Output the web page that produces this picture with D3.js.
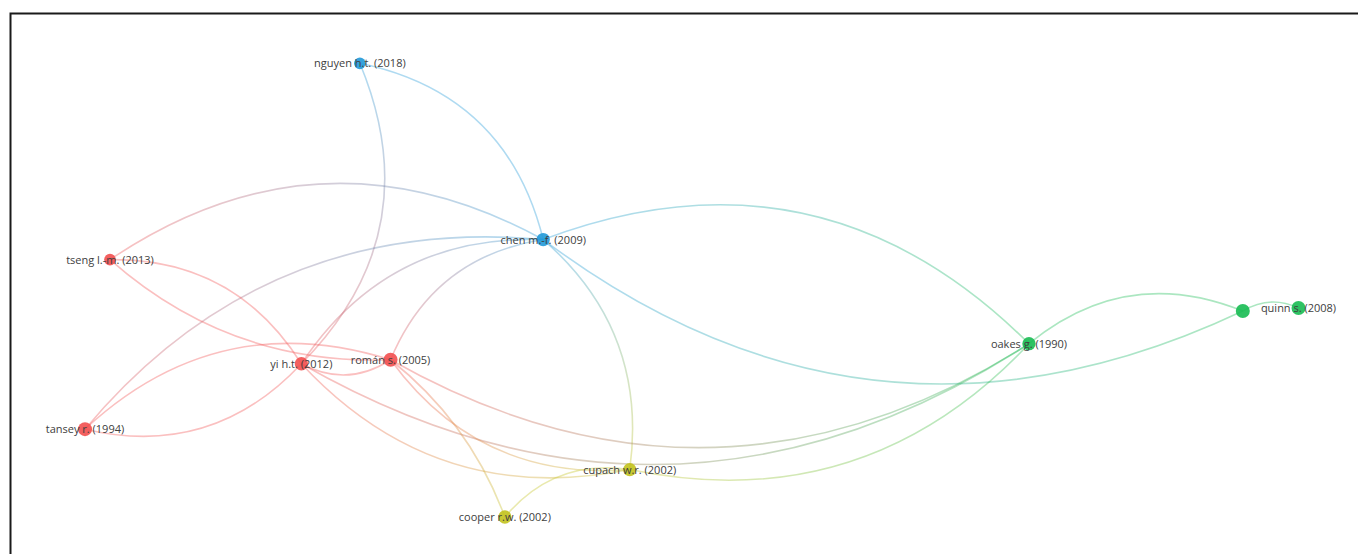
<!DOCTYPE html>
<html><head><meta charset="utf-8">
<script src="https://cdn.jsdelivr.net/npm/d3@7"></script>
<style>html,body{margin:0;padding:0;background:#fff;overflow:hidden}</style>
</head><body>
<svg id="chart" width="1358" height="554"></svg>
<script>
// ---- data (layout coordinates 0..100) ----
const nodeLabels  = ["nguyen h.t. (2018)","chen m.-f. (2009)","tseng l.-m. (2013)","yi h.t. (2012)","román s. (2005)","tansey r. (1994)","cupach w.r. (2002)","cooper r.w. (2002)","oakes g. (1990)","","quinn s. (2008)"];
const nodeX       = [22.65, 37.76, 2.06, 17.83, 25.18, 0, 44.89, 34.60, 77.79, 95.41, 100];
const nodeY       = [0, 38.85, 43.27, 66.22, 65.34, 80.64, 89.55, 100, 61.81, 54.61, 53.94];
const nodeCluster = [2, 2, 0, 0, 0, 0, 3, 3, 1, 1, 1];
const nodeWeight  = [7, 9, 7, 9, 10, 10, 9, 9, 9, 10, 10];
const links = [[0,1],[0,3],[2,1],[5,1],[3,1],[4,1],[1,8],[1,9],[1,6],[2,3],[2,4],[5,3],[5,4],[3,4],[3,6],[3,8],[4,8],[4,6],[4,7],[7,6],[6,8],[8,9],[9,10]];
const linkCurvature = [-0.157,-0.166,-0.152,-0.131,-0.14,-0.14,-0.161,0.151,-0.135,-0.14,0.10,0.145,-0.145,0.148,0.14,0.152,0.15,0.14,-0.07,-0.14,0.14,-0.148,-0.134];
const clusterColors = ["#f24f4f","#17bb52","#2199d8","#c2c21d"];

const W = 1358, H = 554;
const svg = d3.select("#chart");
const x = d3.scaleLinear().domain([0,100]).range([85,1298.5]);
const y = d3.scaleLinear().domain([0,100]).range([63.3,517]);
const r = d3.scaleSqrt().domain([0,10]).range([0,7]);

svg.append("rect").attr("width",W).attr("height",H).attr("fill","#fff");
// frame
svg.append("rect").attr("x",10.5).attr("y",13.5).attr("width",1500).attr("height",800)
  .attr("fill","none").attr("stroke","#1a1a1a").attr("stroke-width",2);

const nodes = nodeLabels.map((l,i)=>({label:l, px:x(nodeX[i]), py:y(nodeY[i]), c:clusterColors[nodeCluster[i]], r:r(nodeWeight[i])}));

const defs = svg.append("defs");
const gLinks = svg.append("g");
links.forEach(([s,t],i)=>{
  const a = nodes[s], b = nodes[t];
  const dx = b.px-a.px, dy = b.py-a.py;
  const k = linkCurvature[i];
  const mx = (a.px+b.px)/2, my = (a.py+b.py)/2;
  const cx = mx + 2*k*(-dy), cy = my + 2*k*dx;
  const gid = "lg"+i;
  const lg = defs.append("linearGradient").attr("id",gid).attr("gradientUnits","userSpaceOnUse")
    .attr("x1",a.px).attr("y1",a.py).attr("x2",b.px).attr("y2",b.py);
  lg.append("stop").attr("offset","0%").attr("stop-color",a.c);
  lg.append("stop").attr("offset","100%").attr("stop-color",b.c);
  const p = d3.path();
  p.moveTo(a.px,a.py); p.quadraticCurveTo(cx,cy,b.px,b.py);
  gLinks.append("path").attr("d",p.toString()).attr("fill","none")
    .attr("stroke","url(#"+gid+")").attr("stroke-opacity",0.36).attr("stroke-width",1.6);
});

svg.append("g").selectAll("circle").data(nodes).join("circle")
  .attr("cx",d=>d.px).attr("cy",d=>d.py).attr("r",d=>d.r).attr("fill",d=>d.c).attr("fill-opacity",0.9);

svg.append("g").selectAll("text").data(nodes.filter(d=>d.label)).join("text")
  .attr("x",d=>d.px).attr("y",d=>d.py).attr("dy","0.36em").attr("text-anchor","middle")
  .attr("font-family","'Open Sans', sans-serif").attr("font-size",11).attr("fill","#404040")
  .text(d=>d.label);
</script>
</body></html>
